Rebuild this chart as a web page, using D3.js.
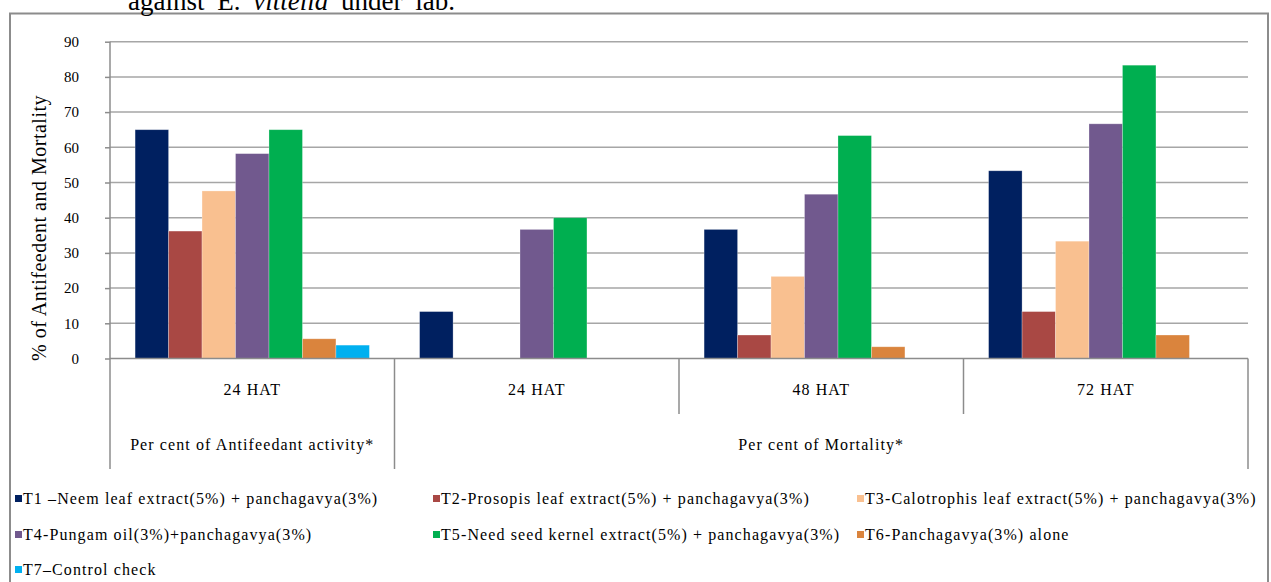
<!DOCTYPE html>
<html>
<head>
<meta charset="utf-8">
<script src="https://cdn.jsdelivr.net/npm/d3@7"></script>
<style>
  html, body { margin: 0; padding: 0; background: #fff; }
  svg { display: block; font-family: "Liberation Serif", "DejaVu Serif", serif; }
</style>
</head>
<body>
<svg id="chart" width="1271" height="582"></svg>
<script>
// Time points after treatment (x categories)
const categories = ["24 HAT", "24 HAT", "48 HAT", "72 HAT"];
// Second-level grouping under the time points
const groupLabels = ["Per cent of Antifeedant activity*", "Per cent of Mortality*"];
const groupSpans = [1, 3];

// Treatments (series)
const seriesNames = [
  "T1 \u2013Neem leaf extract(5%) + panchagavya(3%)",
  "T2-Prosopis leaf extract(5%) + panchagavya(3%)",
  "T3-Calotrophis leaf extract(5%) +  panchagavya(3%)",
  "T4-Pungam oil(3%)+panchagavya(3%)",
  "T5-Need seed kernel extract(5%) + panchagavya(3%)",
  "T6-Panchagavya(3%) alone",
  "T7\u2013Control check"
];
const seriesColors = ["#002060", "#A94844", "#F9C090", "#71598E", "#00AF50", "#DA843D", "#00B0F0"];

// Values (%) per treatment, one per category
const t1 = [65, 13.33, 36.67, 53.33];
const t2 = [36.2, 0, 6.67, 13.33];
const t3 = [47.6, 0, 23.33, 33.33];
const t4 = [58.2, 36.67, 46.67, 66.67];
const t5 = [65, 40, 63.33, 83.33];
const t6 = [5.6, 0, 3.33, 6.67];
const t7 = [3.8, 0, 0, 0];
const seriesValues = [t1, t2, t3, t4, t5, t6, t7];

const yTicks = [0, 10, 20, 30, 40, 50, 60, 70, 80, 90];
const yTitle = "% of Antifeedent and Mortality";

const svg = d3.select("#chart");
const labelFont = 16, labelSpacing = 1.1;

// Outer frame of the chart object
svg.append("rect")
  .attr("x", 10).attr("y", 13.5).attr("width", 1258).attr("height", 600)
  .attr("fill", "none").attr("stroke", "#8c8c8c").attr("stroke-width", 2);

// Caption fragment above the frame
const cap = svg.append("text")
  .attr("x", 128).attr("y", 10)
  .attr("font-size", 27).attr("word-spacing", 6).attr("fill", "#000");
cap.append("tspan").text("against E. ");
cap.append("tspan").attr("font-style", "italic").text("vittella");
cap.append("tspan").text(" under lab.");

const plot = { left: 110, right: 1248, top: 41.7, bottom: 358.5 };

const idx = categories.map((d, i) => i);
const x0 = d3.scaleBand().domain(idx).range([plot.left, plot.right]).padding(0);
const x1 = d3.scaleBand().domain(d3.range(seriesNames.length))
  .range([0, x0.bandwidth()]).paddingInner(0).paddingOuter(0.75);
const y = d3.scaleLinear().domain([0, 90]).range([plot.bottom, plot.top]);

// Gridlines
svg.append("g").selectAll("line").data(yTicks.filter(t => t > 0)).join("line")
  .attr("x1", plot.left).attr("x2", plot.right)
  .attr("y1", d => y(d)).attr("y2", d => y(d))
  .attr("stroke", "#a6a6a6").attr("stroke-width", 1.5);

// Y axis
const yAxis = d3.axisLeft(y).tickValues(yTicks).tickSize(5).tickPadding(26).tickFormat(d3.format("d"));
const gy = svg.append("g").attr("transform", `translate(${plot.left},0)`).call(yAxis);
gy.select(".domain").remove();
gy.selectAll(".tick line").attr("stroke", "#8c8c8c").attr("stroke-width", 1.5);
gy.selectAll(".tick text").attr("font-family", "Liberation Serif, serif").attr("font-size", 15)
  .attr("fill", "#000");

// Bars
const groups = svg.append("g").selectAll("g").data(idx).join("g")
  .attr("transform", i => `translate(${x0(i)},0)`);
groups.selectAll("rect")
  .data(i => seriesValues.map((vals, s) => ({ s, v: vals[i] })).filter(d => d.v > 0))
  .join("rect")
  .attr("x", d => x1(d.s))
  .attr("width", x1.bandwidth())
  .attr("y", d => y(d.v))
  .attr("height", d => y(0) - y(d.v))
  .attr("fill", d => seriesColors[d.s])
  .attr("stroke", "rgba(255,255,255,0.35)")
  .attr("stroke-width", 0.75);

// Axis lines
const axisColor = "#8c8c8c";
svg.append("line").attr("x1", plot.left).attr("x2", plot.left)
  .attr("y1", plot.top).attr("y2", 469).attr("stroke", axisColor).attr("stroke-width", 1.5);
svg.append("line").attr("x1", plot.left).attr("x2", plot.right)
  .attr("y1", plot.bottom).attr("y2", plot.bottom).attr("stroke", axisColor).attr("stroke-width", 1.5);

// Category dividers: full height at group edges, short between time points
const groupEdges = [0];
groupSpans.reduce((acc, n) => { groupEdges.push(acc + n); return acc + n; }, 0);
d3.range(1, categories.length + 1).forEach(k => {
  const xx = k < categories.length ? x0(k) : plot.right;
  const full = groupEdges.includes(k);
  svg.append("line").attr("x1", xx).attr("x2", xx)
    .attr("y1", plot.bottom).attr("y2", full ? 469 : 414)
    .attr("stroke", axisColor).attr("stroke-width", 1.5);
});

// Category labels
svg.append("g").selectAll("text").data(idx).join("text")
  .attr("x", i => x0(i) + x0.bandwidth() / 2)
  .attr("y", 395)
  .attr("text-anchor", "middle")
  .attr("font-size", labelFont).attr("letter-spacing", labelSpacing)
  .text(i => categories[i]);

// Group labels
let start = 0;
groupLabels.forEach((g, gi) => {
  const a = x0(start);
  const endIdx = start + groupSpans[gi];
  const b = endIdx < categories.length ? x0(endIdx) : plot.right;
  svg.append("text")
    .attr("x", (a + b) / 2).attr("y", 450)
    .attr("text-anchor", "middle")
    .attr("font-size", labelFont).attr("letter-spacing", labelSpacing)
    .text(g);
  start = endIdx;
});

// Y axis title
svg.append("text")
  .attr("transform", `translate(46,228) rotate(-90)`)
  .attr("text-anchor", "middle")
  .attr("font-size", 20).attr("letter-spacing", 0.5)
  .text(yTitle);

// Legend
const legendCols = [15, 433, 857];
const legendRows = [504, 540, 575];
const legend = svg.append("g").selectAll("g").data(seriesNames).join("g")
  .attr("transform", (d, i) => `translate(${legendCols[i % 3]},${legendRows[Math.floor(i / 3)]})`);
legend.append("rect")
  .attr("x", 0).attr("y", -9).attr("width", 7).attr("height", 7)
  .attr("fill", (d, i) => seriesColors[i]);
legend.append("text")
  .attr("x", 8).attr("y", 0)
  .attr("font-size", labelFont).attr("letter-spacing", labelSpacing)
  .text(d => d);
</script>
</body>
</html>
